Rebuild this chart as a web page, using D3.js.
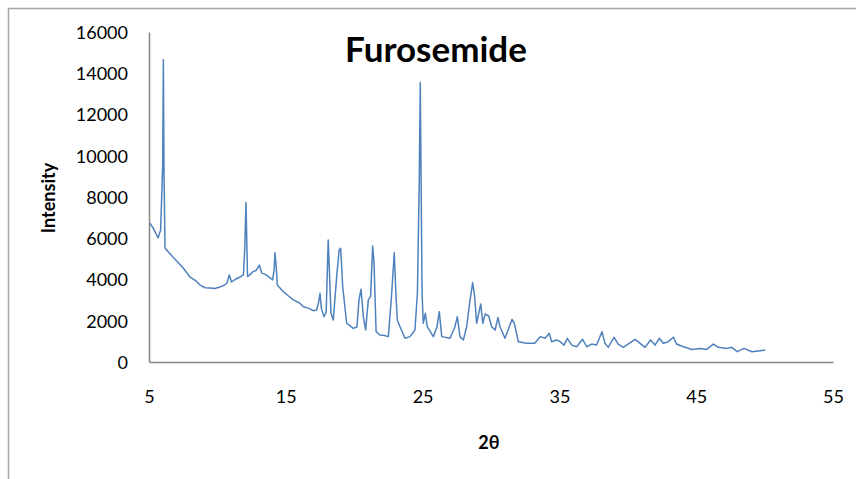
<!DOCTYPE html>
<html>
<head>
<meta charset="utf-8">
<script src="https://cdn.jsdelivr.net/npm/d3@7"></script>
<style>
  body { margin: 0; background: #fff; }
  text { font-family: Lato, "Open Sans", sans-serif; fill: #000; }
</style>
</head>
<body>
<svg width="856" height="479"></svg>
<script>
// data
var twoTheta = [5.05, 5.3, 5.66, 5.85, 6.0, 6.05, 6.1, 6.17, 6.4, 6.75, 7.1, 7.5, 8.0, 8.4, 8.73, 9.1, 9.46, 9.8, 10.2, 10.5, 10.7, 10.87, 11.04, 11.3, 11.65, 11.9, 12.0, 12.09, 12.2, 12.4, 12.6, 12.85, 13.07, 13.24, 13.5, 13.73, 14.04, 14.15, 14.21, 14.3, 14.38, 14.82, 15.2, 15.55, 16.0, 16.28, 16.7, 17.01, 17.25, 17.4, 17.5, 17.6, 17.79, 17.95, 18.1, 18.2, 18.3, 18.47, 18.72, 18.9, 19.01, 19.16, 19.45, 19.7, 19.93, 20.2, 20.35, 20.5, 20.67, 20.84, 21.03, 21.2, 21.35, 21.45, 21.6, 21.88, 22.2, 22.5, 22.74, 22.93, 23.05, 23.15, 23.35, 23.71, 24.08, 24.44, 24.62, 24.75, 24.83, 24.9, 24.96, 25.05, 25.2, 25.34, 25.78, 26.05, 26.22, 26.4, 27.0, 27.36, 27.54, 27.73, 27.98, 28.22, 28.47, 28.66, 28.8, 28.95, 29.1, 29.25, 29.4, 29.58, 29.83, 30.05, 30.3, 30.51, 30.66, 31.02, 31.34, 31.54, 31.7, 32.0, 32.61, 33.2, 33.6, 33.96, 34.26, 34.43, 34.8, 35.05, 35.34, 35.58, 35.9, 36.26, 36.7, 36.99, 37.35, 37.72, 38.11, 38.33, 38.57, 38.99, 39.3, 39.67, 40.1, 40.53, 40.9, 41.26, 41.67, 41.99, 42.3, 42.6, 42.96, 43.33, 43.57, 44.06, 44.67, 45.28, 45.77, 46.25, 46.62, 47.23, 47.6, 48.0, 48.5, 49.07, 49.68, 50.05];
var intensity = [6740, 6500, 6010, 6400, 9500, 14650, 9000, 5530, 5350, 5090, 4850, 4560, 4120, 3950, 3730, 3600, 3590, 3560, 3640, 3720, 3830, 4220, 3880, 4000, 4120, 4220, 5500, 7730, 4140, 4250, 4380, 4450, 4700, 4310, 4250, 4140, 3980, 4500, 5300, 4600, 3730, 3410, 3200, 3010, 2860, 2680, 2600, 2490, 2520, 2900, 3330, 2600, 2200, 2400, 5920, 4200, 2370, 2040, 4140, 5430, 5510, 3650, 1880, 1750, 1630, 1700, 3010, 3530, 2200, 1550, 3010, 3170, 5630, 4800, 1470, 1310, 1280, 1230, 3330, 5300, 3300, 2040, 1710, 1150, 1230, 1550, 3330, 8500, 13550, 8000, 3350, 1880, 2360, 1710, 1230, 1700, 2440, 1230, 1150, 1700, 2200, 1230, 1070, 1710, 3010, 3850, 3200, 1880, 2360, 2810, 1880, 2330, 2230, 1710, 1550, 2160, 1710, 1150, 1710, 2070, 1880, 985, 905, 905, 1230, 1150, 1390, 985, 1070, 985, 820, 1150, 820, 740, 1100, 740, 870, 820, 1470, 905, 710, 1200, 870, 710, 905, 1100, 905, 710, 1070, 820, 1150, 905, 985, 1200, 870, 740, 610, 660, 610, 870, 710, 660, 710, 500, 660, 500, 550, 580];
var xTicks = [5, 15, 25, 35, 45, 55];
var yTicks = [0, 2000, 4000, 6000, 8000, 10000, 12000, 14000, 16000];

var svg = d3.select("svg");

// outer chart frame (runs off the picture on the right and bottom)
svg.append("rect")
  .attr("x", 8.5).attr("y", 8.5)
  .attr("width", 900).attr("height", 500)
  .attr("fill", "none")
  .attr("stroke", "#a6a6a6")
  .attr("stroke-width", 1.5);

var x = d3.scaleLinear().domain([5, 55]).range([149, 833]);
var y = d3.scaleLinear().domain([0, 16000]).range([362, 32]);

var xAxis = d3.axisBottom(x).tickValues(xTicks).tickSize(0).tickPadding(28).tickFormat(d3.format("d"));
var yAxis = d3.axisLeft(y).tickValues(yTicks).tickSize(0).tickPadding(21).tickFormat(d3.format("d"));

var gx = svg.append("g").attr("transform", "translate(0,362)").call(xAxis);
var gy = svg.append("g").attr("transform", "translate(149,0)").call(yAxis);

[gx, gy].forEach(function(g) {
  g.select(".domain").attr("stroke", "#868686").attr("stroke-width", 1.5);
  g.selectAll("text").style("font-size", "18px").attr("fill", "#000");
});
gy.selectAll("text").attr("dy", "0.36em");

var line = d3.line()
  .x(function(d, i) { return x(twoTheta[i]); })
  .y(function(d) { return y(d); });

svg.append("path")
  .datum(intensity)
  .attr("d", line)
  .attr("fill", "none")
  .attr("stroke", "#4f81bd")
  .attr("stroke-width", 1.5)
  .attr("stroke-linejoin", "round");

svg.append("text")
  .attr("x", 436).attr("y", 62)
  .style("text-anchor", "middle")
  .style("font-size", "35px")
  .style("font-weight", "bold")
  .text("Furosemide");

svg.append("text")
  .attr("x", 489).attr("y", 449)
  .style("text-anchor", "middle")
  .style("font-size", "18px")
  .style("font-weight", "bold")
  .text("2θ");

svg.append("text")
  .attr("transform", "rotate(-90)")
  .attr("x", -198).attr("y", 55)
  .style("text-anchor", "middle")
  .style("font-size", "18px")
  .style("font-weight", "bold")
  .text("Intensity");
</script>
</body>
</html>
